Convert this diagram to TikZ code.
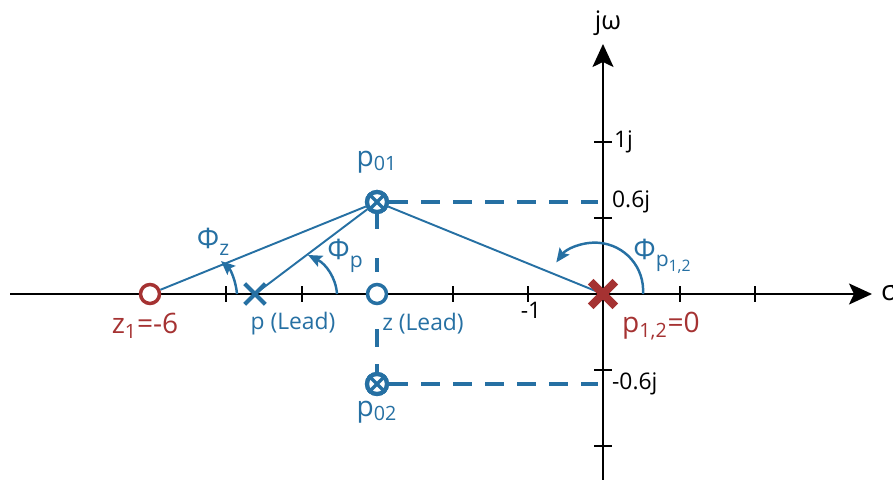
\documentclass[tikz,border=0pt]{standalone}
\usepackage{fontspec}
\setmainfont{Open Sans}
\usetikzlibrary{arrows.meta}
\definecolor{myblue}{RGB}{38,112,163}
\definecolor{myred}{RGB}{165,50,50}
\begin{document}
\begin{tikzpicture}[x=0.02cm,y=0.02cm,
  lbl/.style={font=\fontsize{13}{15}\selectfont, inner sep=1pt},
  biglbl/.style={font=\fontsize{16}{18}\selectfont, inner sep=1pt},
  axisline/.style={line width=1.2pt, black, -{Stealth[length=0.46cm,width=0.42cm,inset=0.1cm]}},
  tickline/.style={line width=1.2pt, black},
  ray/.style={myblue, line width=1.1pt},
  dashline/.style={myblue, line width=2.4pt, dash pattern=on 0.38cm off 0.26cm},
  vdash/.style={myblue, line width=2.4pt, dash pattern=on 0.30cm off 0.58cm on 0.28cm off 1.14cm on 0.36cm off 0.34cm on 0.26cm off 1cm},
  zeroc/.style={circle, draw, line width=2pt, minimum size=0.38cm, inner sep=0pt, fill=white},
  polec/.style={circle, draw=myblue, line width=2.4pt, minimum size=0.4cm, inner sep=0pt, fill=white},
  crossbox/.style={minimum size=0.4cm, inner sep=0pt},
  anglearc/.style={myblue, line width=1.4pt, -{Stealth[length=0.28cm,width=0.24cm,inset=0.05cm]}},
]
\useasboundingbox (0,0) rectangle (893,480);

% axes
\coordinate (O) at (603,186);
\coordinate (xl) at (10,186);
\coordinate (xr) at (872,186);
\coordinate (yb) at (603,0);
\coordinate (yt) at (603,436);
\draw[axisline] (xl) -- (xr);
\draw[axisline] (yb) -- (yt);

% ticks
\foreach \x in {226,302,453,528,680,755}
  \draw[tickline] (\x,178) -- (\x,194);
\foreach \y in {338,262,110,34}
  \draw[tickline] (594,\y) -- (612,\y);

% axis labels
\node[biglbl, anchor=west] (sigma) at (879,187) {σ};
\node[lbl, font=\fontsize{14.5}{16}\selectfont] (jw) at (608,457) {jω};
\node[lbl] (m1) at (531,170) {-1};
\node[lbl, anchor=west] (l1j) at (612,338) {1j};
\node[lbl, anchor=west] (l06) at (610,278) {0.6j};
\node[lbl, anchor=west] (lm06) at (610,96) {-0.6j};

% node positions
\node[zeroc, draw=myred] (z1) at (150,186) {};
\node[crossbox] (p) at (255,186) {};
\node[crossbox, minimum size=0.48cm] (p12) at (603,186) {};
\node[polec] (p01) at (377,278) {};
\node[polec] (p02) at (377,96) {};

% dashed construction lines
\coordinate (a06) at (598,278);
\coordinate (am06) at (598,96);
\draw[vdash] (p01.south) -- (p02.north);
\draw[dashline] (p01.east) -- (a06);
\draw[dashline] (p02.east) -- (am06);

% rays
\draw[ray] (z1) -- (p01);
\draw[ray] (p.center) -- (p01);
\draw[ray] (p12.center) -- (p01);

% markers on top
\node[zeroc, draw=myblue] (z) at (377,186) {};
\node[polec] at (p01) {};
\node[polec] at (p02) {};
\foreach \n in {p01,p02}
  \draw[myblue, line width=1.9pt] (\n.45) -- (\n.225) (\n.135) -- (\n.315);
\draw[myblue, line width=2.4pt] (p.north west) -- (p.south east) (p.north east) -- (p.south west);
\draw[myred, line width=4.6pt] (p12.north west) -- (p12.south east) (p12.north east) -- (p12.south west);

% angle arcs
\draw[anglearc] (237,186) .. controls (236,198) and (231,210) .. (221,219);
\draw[anglearc] (337,186) .. controls (336,202) and (326,216) .. (308,225);
\draw[anglearc] (643,186) arc[start angle=-4, end angle=144, radius=48];

% angle labels
\node[lbl, text=myblue] (phz) at (213,238) {{\fontsize{16}{18}\selectfont Φ}\raisebox{-0.6ex}{\fontsize{12}{13}\selectfont z}};
\node[lbl, text=myblue] (php) at (345,224) {{\fontsize{16}{18}\selectfont Φ}\raisebox{-0.6ex}{\fontsize{12}{13}\selectfont p}};
\node[lbl, text=myblue] (php12) at (662,224) {{\fontsize{16}{18}\selectfont Φ}\raisebox{-0.6ex}{\fontsize{12}{13}\selectfont p\raisebox{-0.4ex}{\fontsize{9}{10}\selectfont 1,2}}};

% point labels
\node[biglbl, text=myblue] (lp01) at (377,318) {p\textsubscript{01}};
\node[biglbl, text=myblue] (lp02) at (377,68) {p\textsubscript{02}};
\node[biglbl, text=myred] (lz1) at (145,154) {z\textsubscript{1}=-6};
\node[lbl, text=myblue] (lp) at (293,156) {p (Lead)};
\node[lbl, text=myblue] (lz) at (423,156) {z (Lead)};
\node[biglbl, text=myred] (lp12) at (661,154) {p\textsubscript{1,2}=0};
\end{tikzpicture}
\end{document}
